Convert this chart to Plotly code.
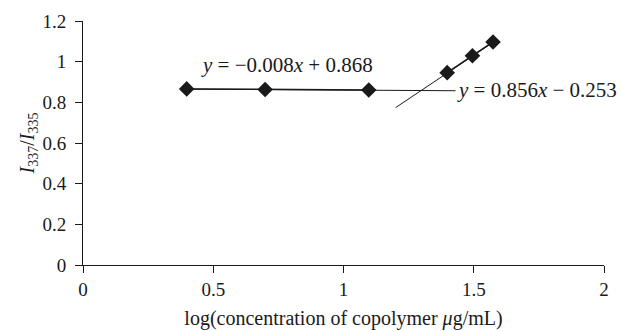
import plotly.graph_objects as go

# Data
low_x = [0.398, 0.699, 1.097]
low_y = [0.866, 0.863, 0.861]
high_x = [1.398, 1.495, 1.574]
high_y = [0.946, 1.029, 1.097]

fit1_x = [0.398, 1.43]
fit1_y = [0.865, 0.857]
fit2_x = [1.20, 1.578]
fit2_y = [0.774, 1.098]

eq1 = "<i>y</i> = −0.008<i>x</i> + 0.868"
eq2 = "<i>y</i> = 0.856<i>x</i> − 0.253"

x_ticks = [0, 0.5, 1, 1.5, 2]
x_tick_labels = ["0", "0.5", "1", "1.5", "2"]
y_ticks = [0, 0.2, 0.4, 0.6, 0.8, 1.0, 1.2]
y_tick_labels = ["0", "0.2", "0.4", "0.6", "0.8", "1", "1.2"]

FONT = "Liberation Serif"
INK = "#1a1a1a"

fig = go.Figure()
fig.add_trace(go.Scatter(x=fit1_x, y=fit1_y, mode="lines",
                         line=dict(color=INK, width=1), showlegend=False))
fig.add_trace(go.Scatter(x=fit2_x, y=fit2_y, mode="lines",
                         line=dict(color=INK, width=1), showlegend=False))
for xs, ys in [(low_x, low_y), (high_x, high_y)]:
    fig.add_trace(go.Scatter(x=xs, y=ys, mode="lines+markers",
                             line=dict(color=INK, width=1.5),
                             marker=dict(symbol="diamond", size=12, color=INK),
                             showlegend=False))

fig.add_annotation(x=0.445, y=0.982, text=eq1, showarrow=False,
                   xanchor="left", yanchor="middle",
                   font=dict(family=FONT, size=21, color=INK))
fig.add_annotation(x=1.428, y=0.86, text=eq2, showarrow=False,
                   xanchor="left", yanchor="middle",
                   font=dict(family=FONT, size=21, color=INK))

fig.update_layout(
    width=621, height=331,
    margin=dict(l=83, r=17, t=21, b=66),
    paper_bgcolor="white", plot_bgcolor="white",
    font=dict(family=FONT, size=18, color=INK),
)
fig.update_xaxes(range=[0, 2], tickvals=x_ticks, ticktext=x_tick_labels,
                 showgrid=False, zeroline=False, showline=True, automargin=False,
                 linecolor=INK, linewidth=1, ticks="outside", ticklen=7,
                 tickcolor=INK, tickfont=dict(size=19), ticklabelstandoff=0,
                 title=dict(text="log(concentration of copolymer <i>μ</i>g/mL)",
                            font=dict(size=20), standoff=12))
fig.update_yaxes(range=[0, 1.2], tickvals=y_ticks, ticktext=y_tick_labels,
                 showgrid=False, zeroline=False, showline=True, automargin=False,
                 linecolor=INK, linewidth=1, ticks="outside", ticklen=7,
                 tickcolor=INK, tickfont=dict(size=19), ticklabelstandoff=5,
                 title=dict(text="<i>I</i><sub>337</sub>/<i>I</i><sub>335</sub>",
                            font=dict(size=20), standoff=2))

fig.write_html("out.html")
